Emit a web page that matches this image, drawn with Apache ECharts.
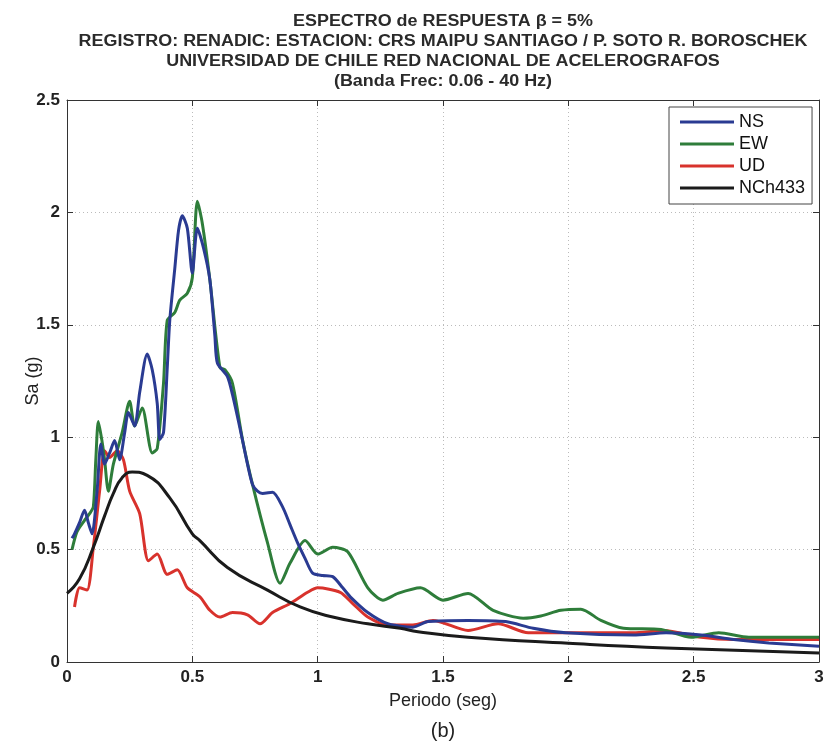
<!DOCTYPE html>
<html><head><meta charset="utf-8">
<script src="https://cdn.jsdelivr.net/npm/echarts@6/dist/echarts.min.js"></script>
<style>html,body{margin:0;padding:0;background:#fff}#c{width:827px;height:744px}</style>
</head><body><div id="c"></div>
<script>
const titleLines = ["ESPECTRO de RESPUESTA \u03b2 = 5%", "REGISTRO: RENADIC: ESTACION: CRS MAIPU SANTIAGO / P. SOTO R. BOROSCHEK", "UNIVERSIDAD DE CHILE RED NACIONAL DE ACELEROGRAFOS", "(Banda Frec: 0.06 - 40 Hz)"];
const seriesNames = ["NS", "EW", "UD", "NCh433"];
const xTicks = [0, 0.5, 1, 1.5, 2, 2.5, 3];
const yTicks = [0, 0.5, 1, 1.5, 2, 2.5];

const nsT  = [0.02,0.03,0.05,0.07,0.085,0.10,0.12,0.135,0.15,0.17,0.19,0.21,0.23,0.245,0.27,0.29,0.32,0.34,0.36,0.37,0.385,0.40,0.41,0.43,0.445,0.46,0.48,0.50,0.52,0.545,0.57,0.59,0.60,0.64,0.66,0.69,0.72,0.74,0.76,0.78,0.82,0.86,0.89,0.92,0.95,0.98,1.02,1.06,1.10,1.13,1.20,1.28,1.38,1.44,1.60,1.75,1.86,1.99,2.26,2.39,2.53,2.66,2.80,3.00];
const nsSa = [0.55,0.57,0.62,0.675,0.62,0.57,0.76,0.97,0.88,0.93,0.985,0.90,1.02,1.11,1.05,1.20,1.37,1.30,1.15,0.99,1.02,1.31,1.52,1.75,1.92,1.985,1.93,1.73,1.93,1.84,1.70,1.45,1.33,1.27,1.19,1.04,0.88,0.79,0.76,0.75,0.755,0.69,0.61,0.53,0.46,0.395,0.385,0.38,0.33,0.29,0.22,0.17,0.155,0.18,0.185,0.18,0.15,0.13,0.12,0.13,0.12,0.10,0.085,0.07];

const ewT  = [0.02,0.04,0.07,0.09,0.105,0.115,0.125,0.14,0.15,0.165,0.185,0.22,0.25,0.27,0.30,0.34,0.36,0.385,0.40,0.43,0.45,0.48,0.50,0.52,0.54,0.57,0.61,0.63,0.66,0.70,0.74,0.80,0.85,0.89,0.95,1.00,1.06,1.12,1.20,1.26,1.32,1.41,1.50,1.60,1.70,1.82,1.89,1.97,2.05,2.13,2.22,2.37,2.49,2.60,2.72,3.00];
const ewSa = [0.50,0.58,0.63,0.66,0.69,0.90,1.07,0.98,0.90,0.76,0.88,1.02,1.16,1.05,1.13,0.93,0.95,1.24,1.52,1.555,1.61,1.64,1.71,2.05,1.95,1.70,1.31,1.30,1.24,0.99,0.79,0.53,0.35,0.44,0.54,0.48,0.51,0.49,0.33,0.275,0.305,0.33,0.275,0.305,0.23,0.195,0.205,0.23,0.235,0.185,0.15,0.145,0.11,0.13,0.11,0.11];

const udT  = [0.03,0.05,0.08,0.105,0.13,0.15,0.17,0.20,0.225,0.25,0.29,0.325,0.36,0.40,0.44,0.48,0.53,0.57,0.61,0.66,0.72,0.77,0.82,0.89,0.96,1.00,1.09,1.14,1.20,1.28,1.38,1.46,1.60,1.72,1.84,2.00,2.26,2.38,2.53,2.66,3.00];
const udSa = [0.245,0.33,0.32,0.51,0.76,0.94,0.91,0.94,0.90,0.76,0.66,0.45,0.48,0.39,0.41,0.33,0.29,0.23,0.20,0.22,0.21,0.17,0.22,0.26,0.31,0.33,0.31,0.26,0.20,0.165,0.165,0.185,0.14,0.17,0.13,0.13,0.13,0.14,0.11,0.10,0.10];

const nchT  = [0.00,0.05,0.105,0.15,0.185,0.22,0.26,0.32,0.41,0.50,0.53,0.64,0.80,0.93,1.06,1.20,1.33,1.40,1.60,2.00,2.39,3.00];
const nchSa = [0.305,0.37,0.51,0.65,0.75,0.82,0.845,0.83,0.73,0.57,0.54,0.42,0.32,0.245,0.20,0.17,0.15,0.135,0.11,0.083,0.062,0.04];

const colors = ["#2a3b92", "#2e7d3a", "#d8322c", "#1b1b1b"];
const zip = (a, b) => a.map((v, i) => [v, b[i]]);
const dataSets = [zip(nsT, nsSa), zip(ewT, ewSa), zip(udT, udSa), zip(nchT, nchSa)];
const FONT = "Liberation Sans, Arial, sans-serif";

const chart = echarts.init(document.getElementById('c'), null, {renderer: 'canvas'});
const axisCommon = {
  type: 'value', min: 0, interval: 0.5,
  axisLine: {show: true, onZero: false, lineStyle: {color: '#333', width: 1}},
  axisTick: {show: true, inside: true, length: 6, lineStyle: {color: '#333'}},
  splitLine: {show: true, lineStyle: {color: '#bbb', type: [1, 3], width: 1}},
  axisLabel: {color: '#222', fontSize: 17, fontFamily: FONT, fontWeight: 'bold'}
};
const titleGraphics = titleLines.map((t, i) => ({
  type: 'text', x: 443, y: 22 + 20 * i, scaleX: 1.12,
  style: {text: t, fontSize: 16, fontWeight: 'bold', fill: '#2a2a2a', fontFamily: FONT,
          textAlign: 'center', textVerticalAlign: 'middle'}
}));
chart.setOption({
  animation: false,
  backgroundColor: '#fff',
  grid: {left: 67, right: 8, top: 100, bottom: 82, show: false},
  legend: {
    data: seriesNames, orient: 'vertical', left: 669, top: 107,
    padding: [5, 7, 6, 11], itemGap: 2,
    itemWidth: 54, itemHeight: 3, icon: 'rect',
    borderColor: '#444', borderWidth: 1, backgroundColor: '#fff',
    textStyle: {fontSize: 18, lineHeight: 20, color: '#111', fontFamily: FONT}
  },
  xAxis: [
    Object.assign({}, axisCommon, {max: 3, position: 'bottom',
      name: 'Periodo (seg)', nameLocation: 'middle', nameGap: 30, nameMoveOverlap: false,
      nameTextStyle: {fontSize: 18, color: '#222', fontFamily: FONT},
      axisLabel: Object.assign({}, axisCommon.axisLabel, {margin: 7, formatter: v => xTicks.includes(v) ? String(v) : ''})}),
    Object.assign({}, axisCommon, {max: 3, position: 'top', axisLabel: {show: false}, splitLine: {show: false}})
  ],
  yAxis: [
    Object.assign({}, axisCommon, {max: 2.5, position: 'left',
      name: 'Sa (g)', nameLocation: 'middle', nameGap: 25, nameRotate: 90, nameMoveOverlap: false,
      nameTextStyle: {fontSize: 18, color: '#222', fontFamily: FONT},
      axisLabel: Object.assign({}, axisCommon.axisLabel, {margin: 7, formatter: v => yTicks.includes(v) ? String(v) : ''})}),
    Object.assign({}, axisCommon, {max: 2.5, position: 'right', axisLabel: {show: false}, splitLine: {show: false}})
  ],
  graphic: titleGraphics.concat([{
    type: 'text', x: 443, y: 731,
    style: {text: '(b)', fontSize: 20, fill: '#222', fontFamily: FONT, textAlign: 'center', textVerticalAlign: 'middle'}
  }]),
  series: seriesNames.map((n, i) => ({
    name: n, type: 'line', data: dataSets[i], xAxisIndex: 0, yAxisIndex: 0,
    showSymbol: false, symbol: 'none', smooth: i === 3 ? 0.5 : 0.25,
    lineStyle: {color: colors[i], width: 3}, itemStyle: {color: colors[i]},
    z: i === 3 ? 5 : 4 - i
  }))
});
</script></body></html>
